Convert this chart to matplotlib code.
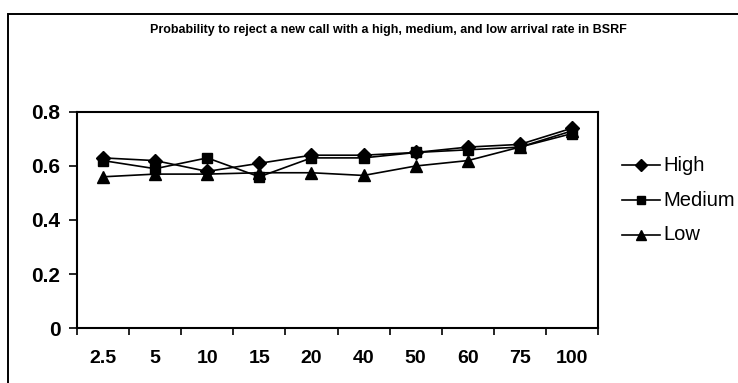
import numpy as np
import matplotlib
matplotlib.use("Agg")
import matplotlib.pyplot as plt
from matplotlib.patches import Rectangle
from matplotlib.lines import Line2D

rates = ["2.5", "5", "10", "15", "20", "40", "50", "60", "75", "100"]
high = [0.63, 0.62, 0.58, 0.61, 0.64, 0.64, 0.65, 0.67, 0.68, 0.74]
medium = [0.62, 0.59, 0.63, 0.56, 0.63, 0.63, 0.65, 0.66, 0.67, 0.72]
low = [0.56, 0.57, 0.57, 0.575, 0.575, 0.565, 0.60, 0.62, 0.67, 0.73]
series_names = ["High", "Medium", "Low"]
y_ticks = [0, 0.2, 0.4, 0.6, 0.8]
y_tick_labels = ["0", "0.2", "0.4", "0.6", "0.8"]
title = "Probability to reject a new call with a high, medium, and low arrival rate in BSRF"

plt.rcParams["font.family"] = ["Liberation Sans", "DejaVu Sans"]

W, H = 738, 383
fig = plt.figure(figsize=(W / 100, H / 100), dpi=100)

# outer chart border
fig.patches.append(Rectangle((8 / W, -0.05), 1.1, (H - 14) / H + 0.05,
                             transform=fig.transFigure, fill=False,
                             edgecolor="black", linewidth=1.4))

ax = fig.add_axes([77 / W, 1 - 328 / H, (598 - 77) / W, (328 - 112) / H])
x = np.arange(len(rates))
markers = ["D", "s", "^"]
sizes = [7, 7, 8]
for vals, mk, ms, name in zip([high, medium, low], markers, sizes, series_names):
    ax.plot(x, vals, color="black", linewidth=1.2, marker=mk, markersize=ms,
            markerfacecolor="black", markeredgecolor="black", label=name)

ax.set_xlim(-0.5, len(rates) - 0.5)
ax.set_ylim(0, 0.8)
ax.set_xticks(x)
ax.set_xticklabels(rates, fontsize=14, fontweight="bold")
ax.set_xticks(np.arange(-0.5, len(rates)), minor=True)
ax.tick_params(axis="x", which="major", length=0, pad=16)
ax.tick_params(axis="x", which="minor", length=5, width=1.2, direction="out")
ax.set_yticks(y_ticks)
ax.set_yticklabels(y_tick_labels, fontsize=15, fontweight="bold")
ax.tick_params(axis="y", length=6, width=1.2, direction="out", pad=6)
for sp in ax.spines.values():
    sp.set_linewidth(1.5)

fig.text(388 / W, 1 - 30 / H, title, ha="center", va="center",
         fontsize=9, fontweight="bold")

# legend entries
for i, (mk, ms, name) in enumerate(zip(markers, sizes, series_names)):
    yy = 1 - (165 + 35 * i) / H
    fig.add_artist(Line2D([622 / W, 660 / W], [yy, yy], transform=fig.transFigure,
                          color="black", linewidth=1.2))
    fig.add_artist(Line2D([641 / W], [yy], transform=fig.transFigure,
                          marker=mk, markersize=ms - 1, color="black"))
    fig.text(663 / W, yy, name, ha="left", va="center", fontsize=14.5)

fig.savefig("out.png", dpi=100)
